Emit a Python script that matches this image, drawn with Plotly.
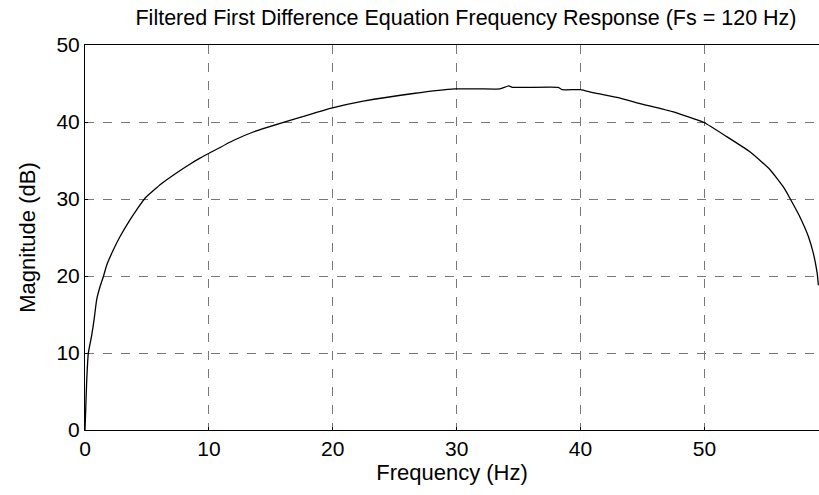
import plotly.graph_objects as go

freq_hz = [0.0, 0.13, 0.27, 0.54, 0.73, 0.94, 1.21, 1.48, 1.75, 2.29, 2.82, 3.63, 4.17,
           4.84, 6.19, 7.5, 8.4, 9.28, 10.09, 11.97, 13.58, 16.55, 19.9, 22.46, 26.5, 29.86,
           31.9, 33.5, 34.2, 34.5, 38.2, 38.5, 40.0, 41.0, 43.2, 44.8, 47.5, 50.0, 51.8,
           53.7, 55.3, 56.4, 56.9, 57.7, 58.4, 58.8, 59.1, 59.2]
magnitude_db = [0.0, 6.1, 10.0, 12.3, 14.3, 16.9, 18.6, 19.9, 21.4, 23.4, 25.1, 27.3, 28.6,
                30.1, 32.0, 33.5, 34.45, 35.3, 36.0, 37.6, 38.7, 40.2, 41.8, 42.7, 43.7, 44.3,
                44.3, 44.3, 44.7, 44.5, 44.5, 44.2, 44.2, 43.8, 43.1, 42.4, 41.3, 39.9, 38.1,
                36.1, 33.8, 31.5, 30.1, 27.7, 25.1, 22.9, 20.4, 18.8]
x_ticks = [0, 10, 20, 30, 40, 50]
y_ticks = [0, 10, 20, 30, 40, 50]

font = "Liberation Sans, Arial, Helvetica, sans-serif"

fig = go.Figure()
fig.add_trace(go.Scatter(x=freq_hz, y=magnitude_db, mode="lines",
                         line=dict(color="black", width=1.3, shape="spline", smoothing=0.4),
                         showlegend=False, hoverinfo="skip"))

axis_common = dict(showgrid=True, gridcolor="#777777", gridwidth=1, griddash="dash",
                   showline=True, linecolor="black", linewidth=1, mirror=True,
                   ticks="inside", ticklen=3, tickcolor="black", zeroline=False,
                   tickfont=dict(family=font, size=21, color="black"))

fig.update_xaxes(range=[0, 59.25], tickvals=x_ticks, **axis_common,
                 title=dict(text="Frequency (Hz)", font=dict(family=font, size=22, color="black"),
                            standoff=3))
fig.update_yaxes(range=[0, 50], tickvals=y_ticks, **axis_common,
                 title=dict(text="Magnitude (dB)", font=dict(family=font, size=22, color="black"),
                            standoff=14))

fig.update_layout(
    width=819, height=495,
    margin=dict(l=85, r=0, t=45, b=65),
    paper_bgcolor="white", plot_bgcolor="white",
    title=dict(text="Filtered First Difference Equation Frequency Response (Fs = 120 Hz)",
               x=0.569, xanchor="center", y=0.965, yanchor="middle",
               font=dict(family=font, size=21.5, color="black")),
)

fig.write_html("out.html")
